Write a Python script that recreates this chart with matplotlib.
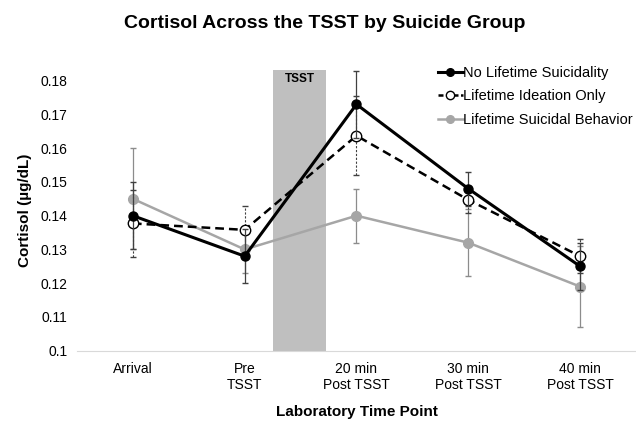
"""Cortisol across the TSST by suicide group."""

import matplotlib

matplotlib.use("Agg")

import matplotlib.pyplot as plt
import numpy as np
from matplotlib.lines import Line2D

plt.rcParams["font.family"] = ["Liberation Sans", "DejaVu Sans"]

time_points = ["Arrival", "Pre\nTSST", "20 min\nPost TSST", "30 min\nPost TSST", "40 min\nPost TSST"]

no_suicidality = [0.140, 0.128, 0.173, 0.148, 0.125]
no_suicidality_err = [0.010, 0.008, 0.010, 0.005, 0.007]

ideation_only = [0.1377, 0.1358, 0.1637, 0.1447, 0.128]
ideation_only_err = [0.010, 0.007, 0.0117, 0.004, 0.005]

suicidal_behavior = [0.145, 0.130, 0.140, 0.132, 0.119]
suicidal_behavior_err = [0.015, 0.007, 0.008, 0.010, 0.012]

yticks = [0.1, 0.11, 0.12, 0.13, 0.14, 0.15, 0.16, 0.17, 0.18]
ytick_labels = ["0.1", "0.11", "0.12", "0.13", "0.14", "0.15", "0.16", "0.17", "0.18"]

GRAY = "#a6a6a6"
DASH = (0, (3.5, 2))

fig = plt.figure(figsize=(6.36, 4.21), dpi=100)
ax = fig.add_axes([0.121, 0.167, 0.879, 0.667])
x = np.arange(len(time_points))

# TSST band between Pre and 20 min
ax.axvspan(1.25, 1.73, color="#bfbfbf", zorder=0, lw=0)
ax.text(1.49, 0.1805, "TSST", ha="center", va="center", fontsize=8.5, fontweight="bold")

ax.errorbar(x, suicidal_behavior, yerr=suicidal_behavior_err, color=GRAY, marker="o",
            markersize=7, linewidth=1.8, ecolor="#8c8c8c", elinewidth=0.9, capsize=2.5, zorder=2)
eb = ax.errorbar(x, ideation_only, yerr=ideation_only_err, color="black", marker="o",
                 markerfacecolor="white", markeredgecolor="black", markersize=7.5,
                 linewidth=1.8, linestyle=DASH, ecolor="#404040", elinewidth=0.8,
                 capsize=2.5, zorder=3)
eb[2][0].set_linestyle((0, (2, 1.5)))
ax.errorbar(x, no_suicidality, yerr=no_suicidality_err, color="black", marker="o",
            markersize=6.5, linewidth=2.2, ecolor="#404040", elinewidth=0.9, capsize=2.5, zorder=4)

ax.set_xlim(-0.5, 4.5)
ax.set_ylim(0.1, 0.1832)
ax.set_xticks(x, time_points)
ax.set_yticks(yticks, ytick_labels)
ax.tick_params(length=0, labelsize=10)
ax.tick_params(axis="y", pad=7)
ax.tick_params(axis="x", pad=8)
for side in ["top", "right", "left"]:
    ax.spines[side].set_visible(False)
ax.spines["bottom"].set_color("#d9d9d9")

ax.set_ylabel("Cortisol (µg/dL)", fontsize=11, fontweight="bold", labelpad=6)
ax.set_xlabel("Laboratory Time Point", fontsize=11, fontweight="bold", labelpad=9)
fig.suptitle("Cortisol Across the TSST by Suicide Group", fontsize=14, fontweight="bold",
             x=0.51, y=0.965)

handles = [
    Line2D([], [], color="black", marker="o", markersize=5.5, linewidth=2.2),
    Line2D([], [], color="black", marker="o", markerfacecolor="white", markersize=6,
           linewidth=1.8, linestyle=(0, (2, 1))),
    Line2D([], [], color=GRAY, marker="o", markersize=5.5, linewidth=1.8),
]
labels = ["No Lifetime Suicidality", "Lifetime Ideation Only", "Lifetime Suicidal Behavior"]
ax.legend(handles, labels, loc="upper right", bbox_to_anchor=(1.005, 1.035), frameon=False,
          fontsize=10.5, handlelength=1.7, handletextpad=0.05, labelspacing=0.65, borderaxespad=0)

fig.savefig("out.png", dpi=100)
